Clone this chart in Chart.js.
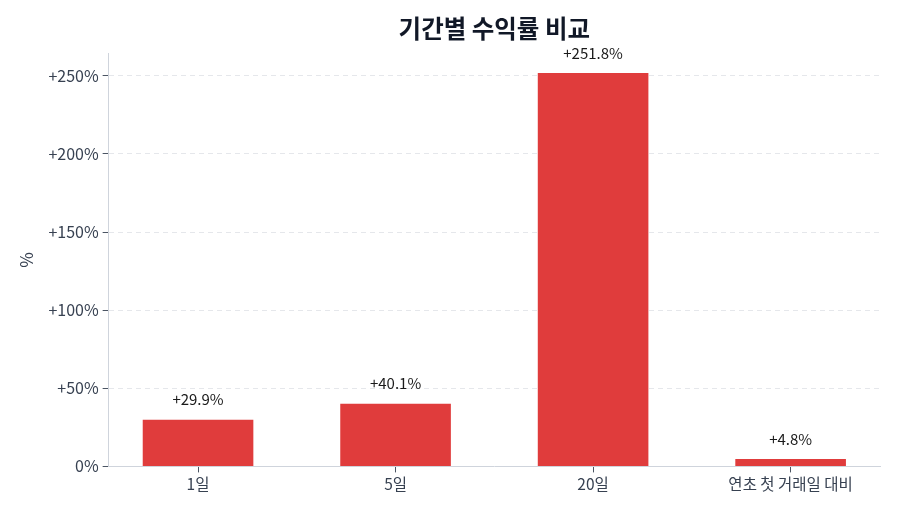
<!DOCTYPE html>
<html>
<head>
<meta charset="utf-8">
<script src="https://cdn.jsdelivr.net/npm/chart.js@4"></script>
<style>
  html, body { margin: 0; padding: 0; background: #fff; }
  #wrap { width: 900px; height: 514px; }
</style>
</head>
<body>
<div id="wrap"><canvas id="c" width="900" height="514"></canvas></div>
<script>
const categories = ['1일', '5일', '20일', '연초 첫 거래일 대비'];
const returns = [29.9, 40.1, 251.8, 4.8];
const yTicks = [0, 50, 100, 150, 200, 250];

const FONT = "'Noto Sans CJK KR', 'Noto Sans', sans-serif";

// value labels above each bar
const valueLabels = {
  id: 'valueLabels',
  afterDatasetsDraw(chart) {
    const ctx = chart.ctx;
    const meta = chart.getDatasetMeta(0);
    ctx.save();
    ctx.font = '15px ' + FONT;
    ctx.fillStyle = '#1a1a1a';
    ctx.textAlign = 'center';
    ctx.textBaseline = 'middle';
    meta.data.forEach((bar, i) => {
      ctx.fillText('+' + returns[i].toFixed(1) + '%', bar.x, bar.y - 20);
    });
    ctx.restore();
  }
};

new Chart(document.getElementById('c'), {
  type: 'bar',
  data: {
    datasets: [{
      data: returns.map((v, i) => ({ x: i, y: v })),
      backgroundColor: '#e03c3c',
      borderWidth: 0,
      categoryPercentage: 1,
      barPercentage: 0.56
    }]
  },
  options: {
    responsive: false,
    animation: false,
    devicePixelRatio: 1,
    layout: { padding: { left: 16, right: 20, top: 14, bottom: 19 } },
    plugins: {
      legend: { display: false },
      tooltip: { enabled: false },
      title: {
        display: true,
        text: '기간별 수익률 비교',
        fullSize: false,
        color: '#111827',
        font: { family: FONT, size: 24.5, weight: 'bold' },
        padding: { top: 0, bottom: 10 }
      }
    },
    scales: {
      x: {
        type: 'linear',
        min: -0.4525,
        max: 3.4525,
        offset: false,
        grid: { offset: false, drawOnChartArea: false, drawTicks: true, tickLength: 6, tickColor: '#4b5563' },
        border: { color: '#cfd4dc' },
        ticks: {
          stepSize: 1,
          includeBounds: false,
          autoSkip: false,
          maxRotation: 0,
          color: '#374151',
          font: { family: FONT, size: 15.5 },
          padding: 2,
          callback: v => Number.isInteger(v) ? categories[v] : ''
        }
      },
      y: {
        min: 0,
        max: 264.4,
        afterBuildTicks: scale => { scale.ticks = yTicks.map(v => ({ value: v })); },
        grid: {
          color: '#e5e7eb',
          tickLength: 6,
          tickColor: '#4b5563'
        },
        border: { color: '#cfd4dc', dash: [5, 4] },
        title: {
          display: true,
          text: '%',
          color: '#374151',
          font: { family: FONT, size: 17 },
          padding: { top: 0, bottom: 8 }
        },
        ticks: {
          color: '#374151',
          font: { family: FONT, size: 16 },
          padding: 4,
          callback: v => v === 0 ? '0%' : '+' + v + '%'
        }
      }
    }
  },
  plugins: [valueLabels]
});
</script>
</body>
</html>
